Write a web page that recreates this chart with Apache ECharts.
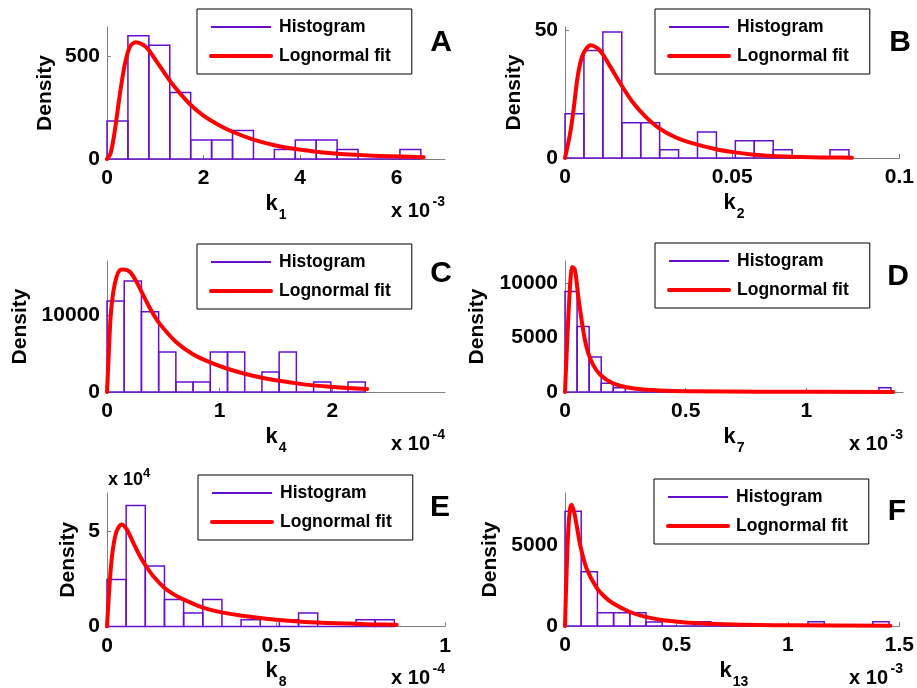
<!DOCTYPE html>
<html>
<head>
<meta charset="utf-8">
<script src="https://cdn.jsdelivr.net/npm/echarts@6/dist/echarts.min.js"></script>
<style>
  html, body { margin: 0; padding: 0; background: #fff; }
  #main { width: 917px; height: 688px; }
</style>
</head>
<body>
<div id="main"></div>
<script>
// histogram bar heights (density), bins start at 0
var binWidthA = 0.4333;
var histA = [184, 598, 552, 322, 92, 92, 138, 0, 46, 92, 92, 46, 0, 0, 46];
var binWidthB = 0.00566;
var histB = [17.3, 42, 49.2, 13.8, 13.8, 3.2, 0, 10.2, 0, 6.7, 6.7, 3.2, 0, 0, 3.2];
var binWidthC = 0.1528;
var histC = [11800, 14400, 10400, 5200, 1300, 1300, 5200, 5200, 0, 2600, 5200, 0, 1300, 0, 1300];
var binWidthD = 0.05;
var histD = [9200, 6000, 3200, 800, 400, 0, 0, 0, 0, 0, 0, 0, 0, 0, 0, 0, 0, 0, 0, 0, 0, 0, 0, 0, 0, 0, 400];
var binWidthE = 0.05667;
var histE = [2.47, 6.35, 3.17, 1.41, 0.71, 1.41, 0, 0.35, 0, 0.35, 0.71, 0, 0, 0.35, 0.35];
var binWidthF = 0.07267;
var histF = [7080, 3350, 820, 820, 820, 250, 0, 0, 260, 0, 0, 0, 0, 0, 0, 260, 0, 0, 0, 260];

// lognormal fit curves [x, density]
var fitA = [[0, 0], [0.07, 25], [0.131, 92], [0.2, 200], [0.27, 319], [0.373, 464], [0.477, 545], [0.594, 566],
    [0.753, 553], [0.864, 529], [1.03, 472], [1.299, 380], [1.513, 318], [1.735, 262], [1.997, 210], [2.274, 170],
    [2.598, 132], [3.034, 94], [3.469, 67], [3.905, 48], [4.333, 35], [4.768, 26], [5.204, 20], [5.639, 15],
    [6.068, 12], [6.558, 9]];
var fitB = [[0, 0], [0.0015, 9.4], [0.0025, 18.3], [0.0039, 32.7], [0.0054, 40.6], [0.0077, 44.1], [0.0104, 42.1],
    [0.0133, 36.2], [0.0169, 28.4], [0.0202, 21.9], [0.0242, 16.0], [0.0282, 11.6], [0.033, 8.1], [0.038, 5.8],
    [0.0452, 3.4], [0.0508, 2.2], [0.0565, 1.3], [0.0622, 0.8], [0.0679, 0.5], [0.0736, 0.3], [0.0792, 0.2],
    [0.0858, 0.1]];
var fitC = [[0, 0], [0.012, 3750], [0.032, 9780], [0.056, 13000], [0.085, 14960], [0.115, 15820], [0.15, 15910],
    [0.203, 15600], [0.262, 14310], [0.306, 13020], [0.38, 10900], [0.46, 9000], [0.613, 6500], [0.763, 4900],
    [0.916, 3840], [1.069, 3020], [1.222, 2370], [1.376, 1850], [1.529, 1450], [1.682, 1120], [1.832, 860],
    [1.985, 680], [2.138, 520], [2.309, 390]];
var fitD = [[0, 0], [0.0069, 3560], [0.0166, 8120], [0.0248, 10850], [0.0303, 11460], [0.0414, 11150],
    [0.0552, 8690], [0.069, 6560], [0.0828, 4740], [0.0966, 3530], [0.117, 2460], [0.146, 1580], [0.196, 820],
    [0.255, 430], [0.324, 220], [0.421, 110], [0.531, 60], [0.807, 25], [1.359, 10]];
var fitE = [[0, 0], [0.0059, 1.75], [0.0118, 3.16], [0.0187, 4.21], [0.0286, 5.0], [0.0434, 5.35], [0.0582, 5.09],
    [0.0779, 4.39], [0.0976, 3.68], [0.1124, 3.25], [0.1371, 2.63], [0.1686, 2.05], [0.1963, 1.7], [0.2258, 1.42],
    [0.282, 1.0], [0.339, 0.74], [0.395, 0.58], [0.453, 0.45], [0.509, 0.34], [0.566, 0.26], [0.622, 0.21],
    [0.679, 0.17], [0.736, 0.14], [0.793, 0.11], [0.857, 0.09]];
var fitF = [[0, 0], [0.0074, 3450], [0.0148, 5930], [0.0222, 7170], [0.0296, 7480], [0.04, 7070], [0.0519, 6240],
    [0.0696, 4900], [0.0963, 3560], [0.1407, 2380], [0.1778, 1800], [0.2148, 1400], [0.2889, 880], [0.3615, 560],
    [0.434, 370], [0.5067, 260], [0.579, 190], [0.7185, 110], [0.8667, 65], [1.0148, 40], [1.459, 18]];

// tick labels
var xTicksA = [0, 2, 4, 6], yTicksA = [0, 500];
var xTicksB = [0, 0.05, 0.1], yTicksB = [0, 50];
var xTicksC = [0, 1, 2], yTicksC = [0, 10000];
var xTicksD = [0, 0.5, 1], yTicksD = [0, 5000, 10000];
var xTicksE = [0, 0.5, 1], yTicksE = [0, 5];
var xTicksF = [0, 0.5, 1, 1.5], yTicksF = [0, 5000];

var FONT = '"Liberation Sans", Arial, Helvetica, sans-serif';
var PURPLE = '#6610cc';
var RED = '#ff0000';
var GRAY = '#808080';

var panels = [
    { letter: 'A', grid: { left: 107, top: 27, width: 338, height: 132 }, xMax: 7, yMax: 640,
        xTicks: xTicksA, yTicks: yTicksA, binWidth: binWidthA, hist: histA, fit: fitA,
        sub: '1', exp: '-3', densityGap: 62, letterPos: [441, 43], legendPos: [197, 9] },
    { letter: 'B', grid: { left: 565, top: 27, width: 338, height: 131 }, xMax: 0.1, yMax: 51.2,
        xTicks: xTicksB, yTicks: yTicksB, binWidth: binWidthB, hist: histB, fit: fitB,
        sub: '2', exp: null, densityGap: 50.5, letterPos: [900, 43], legendPos: [655, 9] },
    { letter: 'C', grid: { left: 107, top: 261, width: 338, height: 131 }, xMax: 3, yMax: 17000,
        xTicks: xTicksC, yTicks: yTicksC, binWidth: binWidthC, hist: histC, fit: fitC,
        sub: '4', exp: '-4', densityGap: 87, letterPos: [441, 274], legendPos: [197, 244] },
    { letter: 'D', grid: { left: 565, top: 261, width: 338, height: 131 }, xMax: 1.4, yMax: 12000,
        xTicks: xTicksD, yTicks: yTicksD, binWidth: binWidthD, hist: histD, fit: fitD,
        sub: '7', exp: '-3', densityGap: 87.5, letterPos: [898, 277], legendPos: [655, 243] },
    { letter: 'E', grid: { left: 107, top: 493, width: 338, height: 133.5 }, xMax: 1, yMax: 7,
        xTicks: xTicksE, yTicks: yTicksE, binWidth: binWidthE, hist: histE, fit: fitE,
        sub: '8', exp: '-4', densityGap: 38.5, letterPos: [440, 508], legendPos: [198, 475], yExp: '4' },
    { letter: 'F', grid: { left: 565, top: 493, width: 338, height: 133 }, xMax: 1.5, yMax: 8200,
        xTicks: xTicksF, yTicks: yTicksF, binWidth: binWidthF, hist: histF, fit: fitF,
        sub: '13', exp: '-3', densityGap: 75, letterPos: [897, 512], legendPos: [654, 479] }
];

function txt(x, y, text, size, align, rotation) {
    return {
        type: 'text', x: x, y: y, rotation: rotation || 0, silent: true,
        style: { text: text, fill: '#000', font: 'bold ' + size + 'px ' + FONT,
            align: align || 'left', verticalAlign: 'middle' }
    };
}

var grids = [], xAxes = [], yAxes = [], series = [], legends = [], graphics = [];

panels.forEach(function(p, i) {
    var g = p.grid;
    var xb = g.left, xr = g.left + g.width, yb = g.top + g.height;
    grids.push({ left: g.left, top: g.top, width: g.width, height: g.height });

    var labelStyle = { color: '#000', fontFamily: FONT, fontWeight: 'bold', fontSize: 21 };
    xAxes.push({
        type: 'value', gridIndex: i, min: 0, max: p.xMax,
        axisLine: { lineStyle: { color: GRAY, width: 1 } },
        axisTick: { inside: true, length: 4, customValues: p.xTicks, lineStyle: { color: GRAY } },
        axisLabel: Object.assign({ customValues: p.xTicks, margin: 9, formatter: function(v) { return String(v); } }, labelStyle),
        splitLine: { show: false }
    });
    yAxes.push({
        type: 'value', gridIndex: i, min: 0, max: p.yMax,
        axisLine: { show: true, lineStyle: { color: GRAY, width: 1 } },
        axisTick: { show: true, inside: true, length: 4, customValues: p.yTicks, lineStyle: { color: GRAY } },
        axisLabel: Object.assign({ customValues: p.yTicks, margin: 7, formatter: function(v) { return String(v); } }, labelStyle),
        splitLine: { show: false }
    });

    // bars as [left edge, right edge, density]
    var bars = p.hist.map(function(h, k) {
        return [k * p.binWidth, (k + 1) * p.binWidth, h];
    });
    series.push({
        name: 'Histogram', type: 'custom', xAxisIndex: i, yAxisIndex: i,
        itemStyle: { color: PURPLE },
        encode: { x: [0, 1], y: 2 },
        data: bars,
        renderItem: function(params, api) {
            var p0 = api.coord([api.value(0), api.value(2)]);
            var p1 = api.coord([api.value(1), 0]);
            return {
                type: 'rect',
                shape: { x: p0[0], y: p0[1], width: p1[0] - p0[0], height: p1[1] - p0[1] },
                style: { fill: 'none', stroke: PURPLE, lineWidth: 1.5 }
            };
        }
    });
    series.push({
        name: 'Lognormal fit', type: 'line', xAxisIndex: i, yAxisIndex: i,
        data: p.fit, symbol: 'none', smooth: 0.3,
        lineStyle: { color: RED, width: 4, join: 'round', cap: 'round' }, itemStyle: { color: RED }
    });

    legends.push({
        orient: 'vertical', left: p.legendPos[0], top: p.legendPos[1],
        data: [
            { name: 'Histogram', icon: 'rect' },
            { name: 'Lognormal fit', lineStyle: { width: 4 } }
        ],
        itemWidth: 60, itemHeight: 2, itemGap: 7,
        padding: [7, 21, 7, 12],
        borderColor: '#000', borderWidth: 1, backgroundColor: '#fff',
        selectedMode: false,
        textStyle: { fontFamily: FONT, fontWeight: 'bold', fontSize: 17.5, color: '#000', lineHeight: 22, padding: [0, 0, 0, 3] }
    });

    // panel texts
    graphics.push(txt(p.letterPos[0], p.letterPos[1], p.letter, 30, 'center'));
    graphics.push(txt(xb - p.densityGap, g.top + g.height / 2, 'Density', 21, 'center', Math.PI / 2));
    var cx = (xb + xr) / 2;
    var kLeft = cx - (12.2 + 1 + 7.8 * p.sub.length) / 2;
    graphics.push(txt(kLeft, yb + 44.5, 'k', 22));
    graphics.push(txt(kLeft + 13.2, yb + 56, p.sub, 14));
    if (p.exp) {
        graphics.push(txt(xr - 15, yb + 52, 'x 10', 20, 'right'));
        graphics.push(txt(xr, yb + 43, p.exp, 14, 'right'));
    }
    if (p.yExp) {
        graphics.push(txt(108, g.top - 13, 'x 10', 18));
        graphics.push(txt(143, g.top - 20, p.yExp, 13));
    }
});

var chart = echarts.init(document.getElementById('main'), null, { renderer: 'canvas' });
chart.setOption({
    animation: false,
    backgroundColor: '#fff',
    grid: grids,
    xAxis: xAxes,
    yAxis: yAxes,
    legend: legends,
    series: series,
    graphic: graphics
});
</script>
</body>
</html>
